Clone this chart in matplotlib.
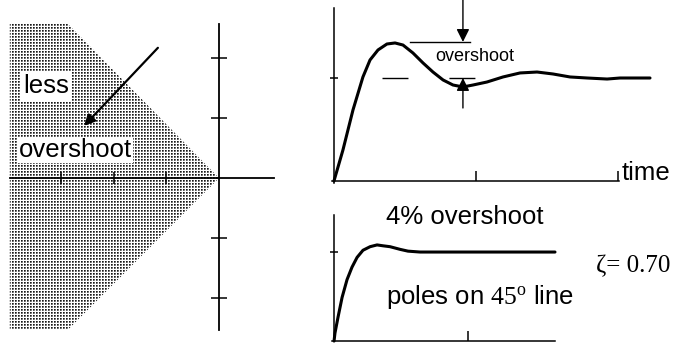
import numpy as np
import matplotlib.pyplot as plt
from matplotlib.patches import Polygon

plt.rcParams['font.family'] = ['Liberation Sans', 'DejaVu Sans']
plt.rcParams['mathtext.fontset'] = 'custom'
plt.rcParams['mathtext.rm'] = 'Liberation Serif'

# s-plane: shaded "less overshoot" wedge (real part, imaginary part)
region_re = [-3.97, -2.87, 0.0, -2.87, -3.97]
region_im = [2.57, 2.57, 0.0, -2.53, -2.53]
re_ticks = [-3, -2, -1]
im_ticks = [-2, -1, 1, 2]

# underdamped step response
t_under = [0.0, 0.063, 0.134, 0.204, 0.254, 0.310, 0.373, 0.430, 0.486, 0.556,
           0.627, 0.697, 0.768, 0.838, 0.908, 0.979, 1.077, 1.190, 1.310, 1.430,
           1.542, 1.662, 1.782, 1.923, 2.014, 2.225]
y_under = [0.0, 0.30, 0.69, 1.01, 1.175, 1.272, 1.330, 1.340, 1.320, 1.243,
           1.146, 1.058, 0.981, 0.932, 0.913, 0.932, 0.961, 1.010, 1.049, 1.058,
           1.039, 1.010, 1.000, 0.990, 1.000, 1.000]
peak_level = 1.35

# step response with zeta = 0.70
t_damped = [0.0, 0.007, 0.030, 0.060, 0.097, 0.134, 0.172, 0.216, 0.269, 0.321,
            0.366, 0.418, 0.493, 0.552, 0.642, 1.649]
y_damped = [0.0, 0.09, 0.27, 0.49, 0.69, 0.83, 0.94, 1.02, 1.06, 1.08,
            1.07, 1.06, 1.03, 1.01, 1.00, 1.00]

W, H = 676, 343
fig = plt.figure(figsize=(W / 100, H / 100), dpi=100)


def px_axes(x0, y0, x1, y1):
    return fig.add_axes([x0 / W, 1 - y1 / H, (x1 - x0) / W, (y1 - y0) / H])


def style_axes(ax, xb, yb, lw=1.1):
    for s in ['top', 'right']:
        ax.spines[s].set_visible(False)
    ax.spines['left'].set_position(('data', 0))
    ax.spines['bottom'].set_position(('data', 0))
    ax.spines['left'].set_bounds(*yb)
    ax.spines['bottom'].set_bounds(*xb)
    for s in ['left', 'bottom']:
        ax.spines[s].set_linewidth(lw)
    ax.set_xticklabels([])
    ax.set_yticklabels([])
    ax.patch.set_visible(False)


arrow_small = dict(arrowstyle='-|>,head_length=0.7,head_width=0.35', lw=1,
                   color='black', mutation_scale=11, shrinkA=0, shrinkB=0)

# ---- left: s-plane ----
ax1 = px_axes(0, 0, 280, 343)
ext = (-4.156, 1.157, -2.75, 2.967)
ax1.set_xlim(ext[0], ext[1])
ax1.set_ylim(ext[2], ext[3])

# stipple texture for the shaded region
cell = np.array([[0.1, 0.35, 1.0], [0.35, 0.55, 1.0], [1.0, 1.0, 1.0]])
tex = np.tile(cell, (115, 94))[:343, :280]
im = ax1.imshow(tex, cmap='gray', vmin=0, vmax=1, extent=ext, aspect='auto',
                interpolation='nearest', zorder=0)
wedge = Polygon(np.column_stack([region_re, region_im]), closed=True,
                facecolor='none', edgecolor='none')
ax1.add_patch(wedge)
im.set_clip_path(wedge)

ax1.set_xticks(re_ticks)
ax1.set_yticks(im_ticks)
style_axes(ax1, (-3.97, 1.04), (-2.53, 2.57), lw=1.3)
ax1.tick_params(axis='x', direction='inout', length=8, width=1.1)
ax1.tick_params(axis='y', direction='inout', length=11, width=1.1)

ax1.text(-3.28, 1.53, 'less', fontsize=18.5, ha='center', va='center',
         bbox=dict(fc='white', ec='none', pad=2))
ax1.text(-2.73, 0.47, 'overshoot', fontsize=18.5, ha='center', va='center',
         bbox=dict(fc='white', ec='none', pad=1))
ax1.annotate('', xy=(-2.56, 0.87), xytext=(-1.16, 2.17),
             arrowprops=dict(arrowstyle='-|>', lw=1.6, color='black',
                             mutation_scale=16, shrinkA=0, shrinkB=0))

# ---- top right: underdamped response ----
ax2 = px_axes(326, 0, 676, 190)
ax2.set_xlim(-0.056, 2.408)
ax2.set_ylim(-0.087, 1.757)
ax2.plot(t_under, y_under, color='black', lw=2.2, clip_on=False,
         solid_capstyle='round')
ax2.set_xticks([1, 2])
ax2.set_yticks([1])
style_axes(ax2, (-0.014, 2.01), (-0.02, 1.68))
ax2.tick_params(axis='x', direction='in', length=7, width=1.1)
ax2.tick_params(axis='y', direction='inout', length=6, width=1.1)

ax2.plot([0.338, 1.007], [1, 1], color='black', lw=1, dashes=(18.7, 29.5))
ax2.plot([0.535, 0.958], [peak_level, peak_level], color='black', lw=1)
ax2.annotate('', xy=(0.908, peak_level), xytext=(0.908, 1.757),
             arrowprops=arrow_small)
ax2.annotate('', xy=(0.908, 1.0), xytext=(0.908, 0.709),
             arrowprops=arrow_small)
ax2.text(0.993, 1.204, 'overshoot', fontsize=13, ha='center', va='center')
ax2.text(2.028, 0.078, 'time', fontsize=18.5, ha='left', va='center')

# ---- bottom right: zeta = 0.70 response ----
ax3 = px_axes(326, 190, 676, 343)
ax3.set_xlim(-0.06, 2.552)
ax3.set_ylim(-0.022, 1.697)
ax3.plot(t_damped, y_damped, color='black', lw=2.2, clip_on=False,
         solid_capstyle='round')
ax3.set_xticks([1])
ax3.set_yticks([1])
style_axes(ax3, (-0.015, 1.65), (0, 1.416))
ax3.tick_params(axis='x', direction='in', length=7, width=1.1)
ax3.tick_params(axis='y', direction='inout', length=6, width=1.1)

ax3.text(0.978, 1.393, '4% overshoot', fontsize=18.5, ha='center', va='center')
ax3.text(1.09, 0.494, r'poles on $\mathrm{45^o}$ line', fontsize=18.5,
         ha='center', va='center')
ax3.text(2.236, 0.843, 'ζ= 0.70', fontsize=18, family='Liberation Serif',
         ha='center', va='center')

fig.savefig('out.png', dpi=100)
